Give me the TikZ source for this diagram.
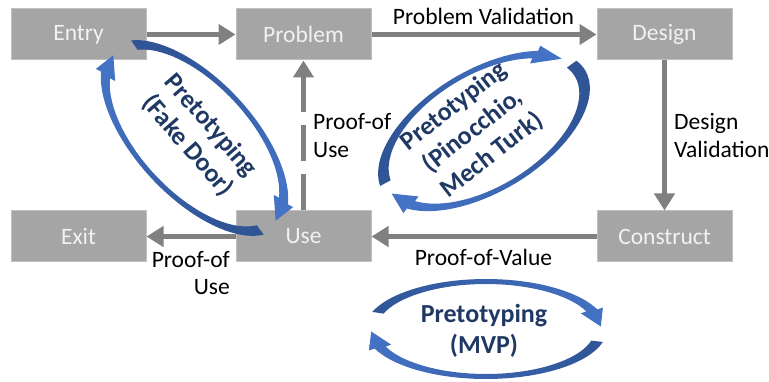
\documentclass[tikz,border=0pt]{standalone}
\usepackage{fontspec}
\setmainfont{Carlito}
\usetikzlibrary{arrows.meta}
\definecolor{boxfill}{HTML}{A5A5A5}
\definecolor{boxline}{HTML}{BFBFBF}
\definecolor{boxtext}{HTML}{F2F2F2}
\definecolor{arrowgray}{HTML}{808080}
\definecolor{bluedark}{HTML}{2F5597}
\definecolor{bluelight}{HTML}{4472C4}
\definecolor{navytext}{HTML}{203864}
\tikzset{
 declare function={
  ex(\myA,\myB,\myT)=\CX+\myA*cos(\myT)*cos(\PHI)-\myB*sin(\myT)*sin(\PHI);
  ey(\myA,\myB,\myT)=\CY+\myA*cos(\myT)*sin(\PHI)+\myB*sin(\myT)*cos(\PHI);
 },
 box/.style={draw=boxline, line width=1pt, fill=boxfill, text=boxtext,
   minimum width=135pt, minimum height=51pt, inner sep=0pt,
   font=\fontsize{23.5}{27}\selectfont},
 garrow/.style={draw=arrowgray, line width=5pt, -{Triangle[length=17pt,width=20pt]}},
 dashline/.style={dash pattern=on 36pt off 13pt},
 lbl/.style={font=\fontsize{23.5}{28}\selectfont, inner sep=0pt, text=black},
 ptext/.style={font=\fontsize{26}{31}\selectfont\bfseries, text=navytext, align=center, inner sep=0pt},
}
% circular arrow band: #1 cx, #2 cy, #3 phi, #4 a, #5 b, #6 tail angle, #7 head-base angle, #8 shading angle
\newcommand\ringarrow[8]{%
 \def\CX{#1}\def\CY{#2}\def\PHI{#3}\def\RA{#4}\def\RB{#5}%
 \shade[top color=bluelight, bottom color=bluedark, shading angle=#8]
  plot[domain=#6:#7, samples=40] ({ex(\RA,\RB,\x)},{ey(\RA,\RB,\x)})
  -- ({ex(\RA+\HX,\RB+\HY,#7)},{ey(\RA+\HX,\RB+\HY,#7)})
  -- ({ex(\RA-\WX/2,\RB-\WY/2,#7+\TIPD)},{ey(\RA-\WX/2,\RB-\WY/2,#7+\TIPD)})
  -- ({ex(\RA-\WX-\HX,\RB-\WY-\HY,#7)},{ey(\RA-\WX-\HX,\RB-\WY-\HY,#7)})
  -- plot[domain=#7:#6, samples=40] ({ex(\RA-\WX,\RB-\WY,\x)},{ey(\RA-\WX,\RB-\WY,\x)})
  -- cycle;}
\def\WX{12}\def\WY{5}\def\HX{6}\def\HY{5}\def\TIPD{20}
\begin{document}
\begin{tikzpicture}[x=1pt,y=-1pt]
\useasboundingbox (0,0) rectangle (769,382);
% boxes
\node[box] (entry) at (78.5,34.5) {Entry};
\node[box] (problem) at (303.5,34.5) {Problem};
\node[box] (design) at (664.5,34.5) {Design};
\node[box] (exit) at (78.5,236.5) {Exit};
\node[box] (use) at (303.5,236.5) {Use};
\node[box] (construct) at (664.5,236.5) {Construct};
% gray connectors
\draw[garrow] (entry) -- (problem);
\draw[garrow] (problem) -- (design);
\draw[garrow] (design) -- (construct);
\draw[garrow] (construct) -- (use);
\draw[garrow] (use) -- (exit);
\draw[garrow, dashline] (use) -- (problem);
% labels
\node[lbl, anchor=base] (pvlabel) at (483.5,25) {Problem Validation};
\node[lbl, anchor=base west, align=left] (dvlabel) at (674,158) {Design\\Validation};
\node[lbl, anchor=base west, align=left] (pulabel) at (313,158) {Proof-of\\Use};
\node[lbl, anchor=base] (pvallabel) at (483.5,266) {Proof-of-Value};
\node[lbl, anchor=base east, align=right] (exlabel) at (230,295) {Proof-of\\Use};
% blue circular arrows
\ringarrow{194.5}{138}{47}{122}{59}{200}{337}{-137}
\ringarrow{194.5}{138}{47}{122}{59}{15}{157}{43}
\ringarrow{484}{131}{-31}{118}{61}{186}{318}{-59}
\ringarrow{484}{131}{-31}{118}{61}{348}{514}{121}
\ringarrow{486}{329}{0}{121}{50}{200}{337}{-90}
\ringarrow{486}{329}{0}{121}{50}{15}{157}{90}
% blue texts
\node[ptext, rotate=-49] (fdtext) at (199,136) {Pretotyping\\(Fake Door)};
\node[ptext, rotate=38] (pintext) at (473,131) {Pretotyping\\(Pinocchio,\\Mech Turk)};
\node[ptext] (mvptext) at (484,331) {Pretotyping\\(MVP)};
\end{tikzpicture}
\end{document}
